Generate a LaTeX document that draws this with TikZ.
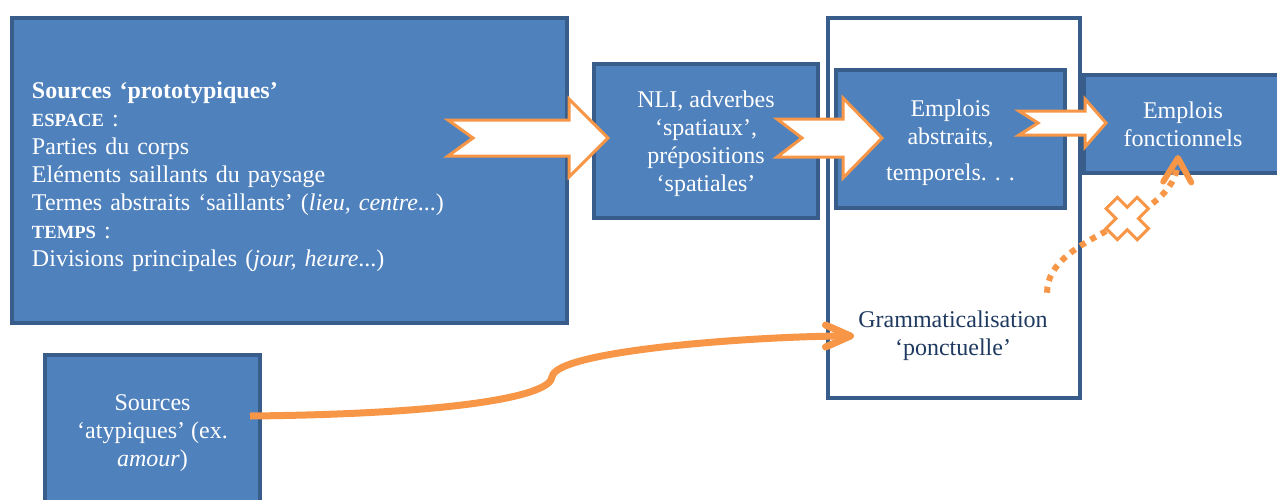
\documentclass[tikz,border=0pt]{standalone}
\usepackage{fontspec}
\setmainfont{Liberation Serif}
\usepackage{xcolor}
\usetikzlibrary{calc, arrows.meta, positioning}

\definecolor{boxblue}{HTML}{4F81BD}
\definecolor{boxedge}{HTML}{385D8A}
\definecolor{linkorange}{HTML}{F79646}
\definecolor{gramtext}{HTML}{1F3A60}

\begin{document}
\begin{tikzpicture}[x=0.5pt, y=-0.5pt]
            % Styles
            \tikzstyle{block} = [rectangle, draw=boxedge, fill=boxblue, line width=2pt, text=white, align=center, inner sep=0pt, font=\fontsize{12}{14}\selectfont]
            \tikzstyle{frame} = [rectangle, draw=boxedge, fill=white, line width=1.75pt]
            \tikzstyle{fatarrow} = [draw=linkorange, fill=white, line width=1.5pt, line join=miter]
            \tikzstyle{link} = [draw=linkorange, line width=3.5pt, -{Straight Barb[length=12.5pt, width=11pt, round]}]
            \tikzstyle{nolink} = [draw=linkorange, line width=3pt, dash pattern=on 3pt off 3pt, -{Straight Barb[length=12pt, width=14pt, round]}]
            \tikzstyle{crossmark} = [draw=linkorange, fill=white, line width=1.5pt]
            % notched block arrow: shaft half, head half, head length, notch
            \tikzset{notched/.style n args={4}{to path={let \p1=(\tikztostart), \p2=(\tikztotarget) in
                (\x1,\y2+#1) -- (\x2-#3,\y2+#1) -- (\x2-#3,\y2+#2) -- (\x2,\y2) -- (\x2-#3,\y2-#2)
                -- (\x2-#3,\y2-#1) -- (\x1,\y2-#1) -- (\x1+#4,\y2) -- cycle}}}

            \useasboundingbox (0,0) rectangle (1277,499);
            \clip (0,0) rectangle (1277,499);

            % Sources
            \node[block, minimum width=277.5pt, minimum height=152.5pt, text width=257.5pt, align=left] (proto) at (289.5,170.5)
                {\rule{0pt}{14.2pt}{\bfseries Sources `prototypiques'}\\
                 {\fontsize{9.3}{14}\selectfont\bfseries ESPACE} :\\
                 Parties du corps\\
                 Eléments saillants du paysage\\
                 Termes abstraits `saillants' (\textit{lieu, centre}...)\\
                 {\fontsize{9.3}{14}\selectfont\bfseries TEMPS} :\\
                 Divisions principales (\textit{jour, heure}...)};
            \node[block, minimum width=107.5pt, minimum height=76pt] (atyp) at (152.5,431) {\rule{0pt}{10pt}Sources\\`atypiques' (ex.\\\textit{amour})};

            % Spatial stage
            \node[block, minimum width=112pt, minimum height=77pt] (nli) at (706,141) {\rule{0pt}{11.2pt}NLI, adverbes\\`spatiaux',\\prépositions\\`spatiales'};

            % Grammaticalisation frame
            \node[frame, minimum width=126pt, minimum height=190pt] (gramframe) at (954,208) {};
            \node[block, minimum width=114.5pt, minimum height=69pt] (abstr) at (950.5,139) {\rule{0pt}{12pt}Emplois\\abstraits,\\[4pt]temporels.\kern4pt.\kern4pt.};
            \node[text=gramtext, align=center, inner sep=2pt, font=\fontsize{12}{14}\selectfont] (gram) at (953,336) {Grammaticalisation\\`ponctuelle'};

            % Functional uses
            \node[block, minimum width=99pt, minimum height=49pt] (fonct) at (1183,124) {Emplois\\fonctionnels};

            % Block arrows
            \draw[fatarrow, notched={9pt}{19.5pt}{19.5pt}{12.5pt}] ([xshift=-60.5pt]proto.east) to ([xshift=8pt,yshift=1.5pt]nli.west);
            \draw[fatarrow, notched={9.5pt}{20pt}{19.5pt}{12.5pt}] ([xshift=-21.5pt]nli.east) to ([xshift=24pt,yshift=0.5pt]abstr.west);
            \draw[fatarrow, notched={6pt}{12pt}{10.5pt}{9.5pt}] ([xshift=-24pt]abstr.east) to ([xshift=12pt,yshift=0.5pt]fonct.west);

            % Connections
            \draw[link] ([xshift=-6pt,yshift=7.5pt]atyp.east) .. controls (450,414) and (550,397) .. (552,377)
                .. controls (555,350) and (760,336) .. (gram.west);
            \draw[nolink] ([xshift=-2.5pt,yshift=7pt]gram.north east) .. controls (1047,232) and (1176,225)
                .. ([xshift=-2.5pt,yshift=10pt]fonct.south) coordinate[pos=0.58] (blocked);
            \draw[crossmark, shift={(blocked)}, rotate=45] (-8,-22) -- (8,-22) -- (8,-8) -- (22,-8) -- (22,8) -- (8,8)
                -- (8,22) -- (-8,22) -- (-8,8) -- (-22,8) -- (-22,-8) -- (-8,-8) -- cycle;
\end{tikzpicture}
\end{document}
